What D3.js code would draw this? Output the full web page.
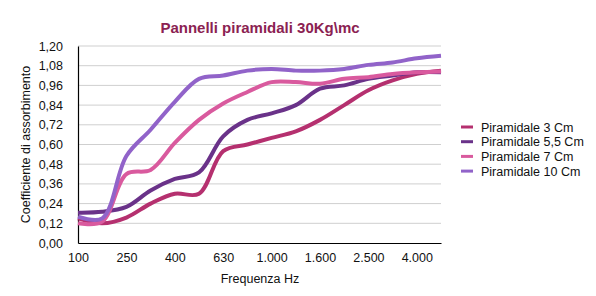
<!DOCTYPE html>
<html>
<head>
<meta charset="utf-8">
<script src="https://cdn.jsdelivr.net/npm/d3@7"></script>
<style>
    body { margin: 0; background: #fff; }
    svg text { font-family: "Liberation Sans", Arial, sans-serif; fill: #111; }
</style>
</head>
<body>
<svg id="chart" width="596" height="296"></svg>
<script>
// Dati
const frequencies = ["100", "160", "250", "315", "400", "500", "630", "800", "1.000", "1.250", "1.600", "2.000", "2.500", "3.150", "4.000", "5.000"];
const shownLabels = ["100", "250", "400", "630", "1.000", "1.600", "2.500", "4.000"];
const yTicks = [0, 0.12, 0.24, 0.36, 0.48, 0.60, 0.72, 0.84, 0.96, 1.08, 1.20];

const seriesNames = ["Piramidale 3 Cm", "Piramidale 5,5 Cm", "Piramidale 7 Cm", "Piramidale 10 Cm"];
const seriesColors = ["#b5306f", "#6a3289", "#d95a9e", "#9163c9"];

const values3 = [0.15, 0.12, 0.155, 0.24, 0.30, 0.30, 0.56, 0.60, 0.64, 0.68, 0.75, 0.84, 0.93, 0.99, 1.03, 1.05];
const values55 = [0.185, 0.19, 0.22, 0.32, 0.39, 0.43, 0.65, 0.75, 0.79, 0.84, 0.94, 0.96, 1.00, 1.02, 1.04, 1.04];
const values7 = [0.12, 0.13, 0.42, 0.445, 0.61, 0.75, 0.85, 0.92, 0.98, 0.98, 0.97, 1.00, 1.01, 1.03, 1.04, 1.045];
const values10 = [0.16, 0.15, 0.53, 0.69, 0.86, 1.00, 1.02, 1.05, 1.06, 1.05, 1.05, 1.06, 1.085, 1.10, 1.125, 1.14];

const seriesValues = [values3, values55, values7, values10];

// Configurazione
const config = {
    margin: { left: 78, right: 155, top: 46, bottom: 53 },
    width: 596,
    height: 296
};

const svg = d3.select("#chart");
const innerRight = config.width - config.margin.right;
const innerBottom = config.height - config.margin.bottom;

const xScale = d3.scalePoint()
    .domain(frequencies)
    .range([config.margin.left, innerRight]);

const yScale = d3.scaleLinear()
    .domain([0, 1.2])
    .range([innerBottom, config.margin.top]);

// Griglia
svg.append("g")
    .selectAll("line")
    .data(yTicks.slice(1))
    .enter()
    .append("line")
    .attr("x1", config.margin.left)
    .attr("x2", innerRight)
    .attr("y1", function(d) { return yScale(d); })
    .attr("y2", function(d) { return yScale(d); })
    .attr("stroke", "#cfcfcf")
    .attr("stroke-width", 1);

// Asse Y
const yAxis = svg.append("g")
    .attr("transform", "translate(" + config.margin.left + ",0)")
    .call(d3.axisLeft(yScale)
        .tickValues(yTicks)
        .tickSize(0)
        .tickPadding(15)
        .tickFormat(function(d) { return d.toFixed(2).replace(".", ","); }));
yAxis.select(".domain").attr("stroke", "#000").attr("stroke-width", 1.2);
yAxis.selectAll("text").attr("font-size", 12.5).attr("fill", "#111");

// Asse X
const xAxis = svg.append("g")
    .attr("transform", "translate(0," + innerBottom + ")")
    .call(d3.axisBottom(xScale)
        .tickValues(shownLabels)
        .tickSize(0)
        .tickPadding(10));
xAxis.select(".domain").attr("stroke", "#000").attr("stroke-width", 1.2);
xAxis.selectAll("text").attr("font-size", 12.5).attr("fill", "#111");

// Linee
const line = d3.line()
    .x(function(d, i) { return xScale(frequencies[i]); })
    .y(function(d) { return yScale(d); })
    .curve(d3.curveCatmullRom.alpha(0.5));

seriesValues.forEach(function(values, index) {
    svg.append("path")
        .datum(values)
        .attr("fill", "none")
        .attr("stroke", seriesColors[index])
        .attr("stroke-width", 4)
        .attr("stroke-linejoin", "round")
        .attr("d", line);
});

// Titoli
svg.append("text")
    .attr("x", 260)
    .attr("y", 33)
    .attr("text-anchor", "middle")
    .attr("font-size", 15)
    .attr("font-weight", "bold")
    .style("fill", "#8b2252")
    .text("Pannelli piramidali 30Kg\\mc");

svg.append("text")
    .attr("x", 260)
    .attr("y", 283)
    .attr("text-anchor", "middle")
    .attr("font-size", 12.5)
    .text("Frequenza Hz");

svg.append("text")
    .attr("transform", "translate(30," + ((config.margin.top + innerBottom) / 2) + ") rotate(-90)")
    .attr("text-anchor", "middle")
    .attr("font-size", 12.5)
    .text("Coefficiente di assorbimento");

// Legenda
const legend = svg.append("g")
    .attr("transform", "translate(461,127)");

seriesNames.forEach(function(name, index) {
    const item = legend.append("g")
        .attr("transform", "translate(0," + (index * 14.7) + ")");

    item.append("line")
        .attr("x1", 0)
        .attr("x2", 12)
        .attr("stroke", seriesColors[index])
        .attr("stroke-width", 3);

    item.append("text")
        .attr("x", 20)
        .attr("y", 4.5)
        .attr("font-size", 12.5)
        .text(name);
});
</script>
</body>
</html>
